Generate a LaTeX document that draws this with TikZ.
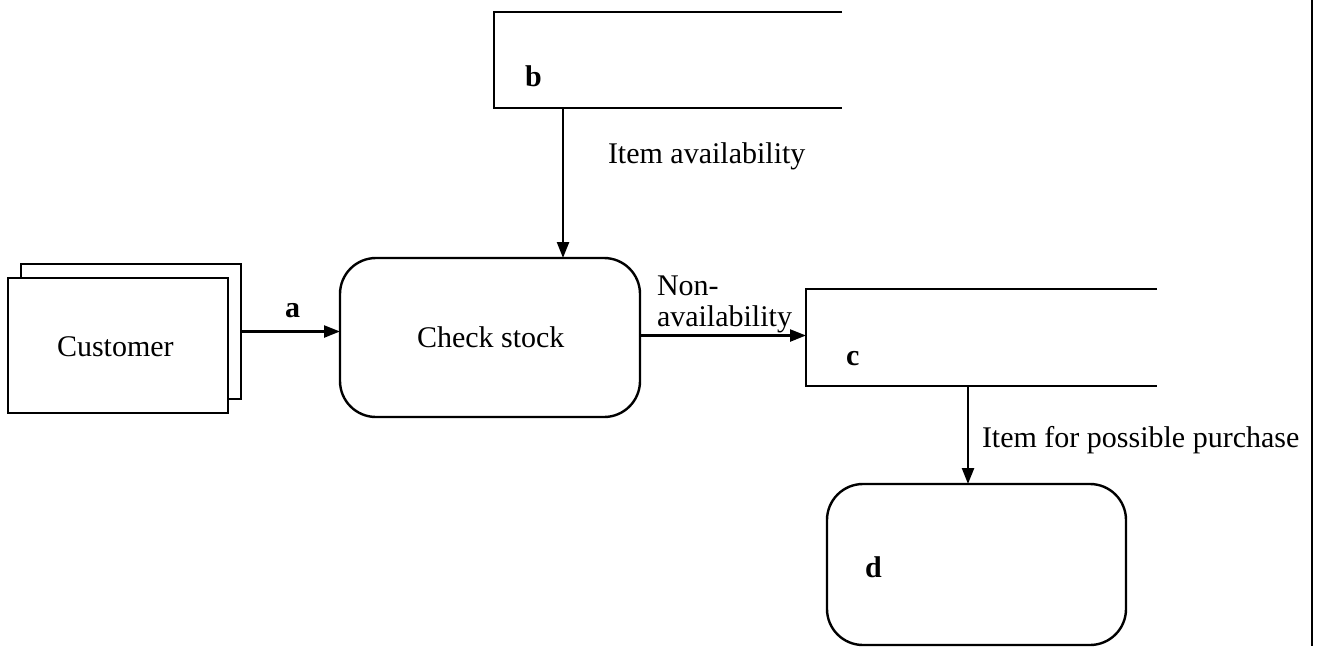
\documentclass[tikz,border=0pt]{standalone}
\usepackage{fontspec}
\setmainfont{Liberation Serif}
\usetikzlibrary{arrows.meta}
\begin{document}
\begin{tikzpicture}[x=1pt,y=-1pt,
  line width=2.4pt,
  every node/.style={font=\fontsize{30}{36}\selectfont, inner sep=0pt, outer sep=0pt},
  flow/.style={-{Triangle[length=16pt,width=12pt]}, line width=2.4pt},
  entity/.style={draw, fill=white, minimum width=220pt, minimum height=135pt},
  process/.style={draw, rounded corners=36pt, minimum width=300pt, minimum height=159pt},
  store/.style={minimum width=348pt, minimum height=96pt},
  tag/.style={font=\fontsize{30}{36}\selectfont\bfseries, anchor=base west},
  lbl/.style={anchor=base west}
]
\useasboundingbox (0,0) rectangle (1318,646);
% right border line
\draw (1312,0) -- (1312,646);

% Customer (external entity, doubled)
\node[entity] (custback) at (131,331.5) {};
\node[entity] (cust) at (118,345.5) {};
\node[lbl] at (57,356) {Customer};

% Check stock process
\node[process] (check) at (490,337.5) {};
\node[lbl] at (417,347) {Check stock};

% Data store b
\node[store] (b) at (668,60) {};
\draw (b.north east) -- (b.north west) -- (b.south west) -- (b.south east);
\node[tag] at (525,86) {b};

% Data store c
\node[store, minimum width=351pt, minimum height=97pt] (c) at (981.5,337.5) {};
\draw (c.north east) -- (c.north west) -- (c.south west) -- (c.south east);
\node[tag] at (846,365) {c};

% Process d
\node[process, minimum width=299pt, minimum height=161pt] (d) at (976.5,564.5) {};
\node[tag] at (865,577) {d};

% Flows
\draw[flow] (custback.east) -- (custback.east -| check.west);
\node[tag] at (285,317) {a};

\coordinate (bout) at ([xshift=69pt]b.south west);
\draw[flow] (bout) -- (bout |- check.north);
\node[lbl] at (608,163) {Item availability};

\draw[flow] ([yshift=2pt]check.east) -- ([yshift=2pt]check.east -| c.west);
\node[lbl] at (657,295) {Non-};
\node[lbl] at (657,326) {availability};

\coordinate (cout) at ([xshift=-13.5pt]c.south);
\draw[flow] (cout) -- (cout |- d.north);
\node[lbl] at (982,447) {Item for possible purchase};
\end{tikzpicture}
\end{document}
